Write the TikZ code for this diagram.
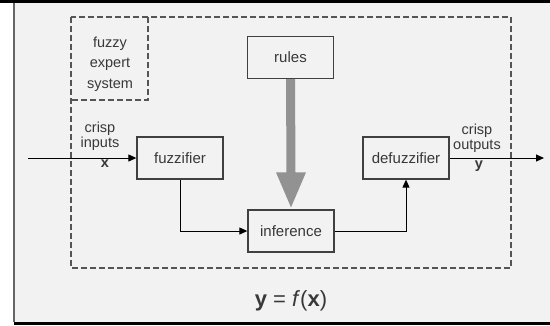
\documentclass[tikz,border=0pt]{standalone}
\usepackage{fontspec}
\setmainfont{Liberation Sans}
\usetikzlibrary{arrows.meta,calc}
\definecolor{bg}{HTML}{F2F2F2}
\definecolor{boxline}{HTML}{404040}
\definecolor{txt}{HTML}{383838}
\definecolor{dash}{HTML}{555555}
\definecolor{bigarrow}{HTML}{929292}
\tikzset{
  blockbox/.style={draw=boxline, line width=1.3pt, fill=bg, minimum width=86pt, minimum height=42pt, inner sep=0pt, text=txt, font=\fontsize{15}{17}\selectfont},
  lbl/.style={text=txt, inner sep=0pt, align=center, font=\fontsize{14.5}{15}\selectfont},
  dashbox/.style={draw=dash, line width=1.4pt, dash pattern=on 6pt off 3pt},
  flow/.style={draw=black, line width=1pt, -{Triangle[length=8pt,width=7pt]}},
}
\begin{document}
\begin{tikzpicture}[x=1pt,y=-1pt]
\useasboundingbox (0,0) rectangle (550,325);
% frame
\fill[white] (0,0) rectangle (550,325);
\fill[bg] (14,3) rectangle (550,322);
\fill[black] (0,0) rectangle (550,3);
\fill[black] (14,322) rectangle (550,325);
\draw[gray!80!black, line width=1.5pt] (14,3) -- (14,322);
% dashed boxes
\draw[dashbox] (71,17) rectangle (511,268);
\draw[dashbox] (148,17) -- (148,100) -- (71,100);
\node[lbl, font=\fontsize{14.5}{20.5}\selectfont] (fes) at (110,64) {fuzzy\\expert\\system};
% blocks
\node[blockbox] (rules) at (290.5,57.5) {rules};
\node[blockbox] (inf) at (291,231) {inference};
\node[blockbox] (fuzz) at (180,158) {fuzzifier};
\node[blockbox] (defuzz) at (406,158) {defuzzifier};
% big gray arrow
\fill[bigarrow] ($(rules.south)+(-4.5,0)$) -- ($(inf.north)+(-4.5,-37)$) -- ($(inf.north)+(-15,-37)$)
  -- ($(inf.north)+(0,-2)$) -- ($(inf.north)+(15,-37)$) -- ($(inf.north)+(4.5,-37)$) -- ($(rules.south)+(4.5,0)$) -- cycle;
% input / output
\coordinate (inpt) at (28,158);
\coordinate (outpt) at (544,158);
\draw[flow] (inpt) -- (fuzz.west);
\draw[flow] (defuzz.east) -- (outpt);
\draw[flow] (fuzz.south) |- (inf.west);
\draw[flow] (inf.east) -| (defuzz.south);
% labels
\node[lbl] (cin) at (100,136) {crisp\\inputs};
\node[lbl] (xin) at (105,164) {\textbf{x}};
\node[lbl] (cout) at (477,138) {crisp\\outputs};
\node[lbl] (yout) at (479,166) {\textbf{y}};
\node[text=txt, inner sep=0pt, font=\fontsize{22}{24}\selectfont] (eq) at (291,301) {\textbf{y} = \textit{f}(\textbf{x})};
\end{tikzpicture}
\end{document}
